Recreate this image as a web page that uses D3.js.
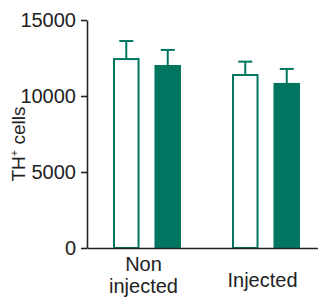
<!DOCTYPE html>
<html><head><meta charset="utf-8">
<script src="https://cdn.jsdelivr.net/npm/d3@7"></script>
<style>
html,body{margin:0;padding:0;background:#fff;}
svg{display:block;}
text{font-family:"Liberation Sans Narrow","Arial Narrow","Liberation Sans",Arial,sans-serif;fill:#222;}
</style></head>
<body>
<svg id="chart" width="318" height="300"></svg>
<script>
const categories = ["Non\ninjected", "Injected"];
const seriesNames = ["control", "treated"];
const means = [[12430, 12040], [11380, 10860]];
const errors = [[1190, 990], [880, 920]];
const yTicks = [0, 5000, 10000, 15000];

const svg = d3.select("#chart");
const teal = "#007661";
const axisColor = "#222";

const y = d3.scaleLinear().domain([0, 15000]).range([248, 20]);
const x0 = d3.scaleBand().domain(categories).range([87, 325]).padding(0);
const x1 = d3.scaleBand().domain(seriesNames).range([26, 94]).paddingInner(0.36).paddingOuter(0);

// bars
const groups = svg.selectAll("g.grp").data(categories).enter().append("g")
  .attr("transform", d => `translate(${x0(d)},0)`);

groups.each(function(cat, ci) {
  const g = d3.select(this);
  seriesNames.forEach((s, si) => {
    const v = means[ci][si], e = errors[ci][si];
    const bx = x1(s), bw = x1.bandwidth();
    const cx = bx + bw / 2;
    // error bar (upper only)
    g.append("line").attr("x1", cx).attr("x2", cx)
      .attr("y1", y(v)).attr("y2", y(v + e))
      .attr("stroke", teal).attr("stroke-width", 2);
    g.append("line").attr("x1", cx - 7).attr("x2", cx + 7)
      .attr("y1", y(v + e)).attr("y2", y(v + e))
      .attr("stroke", teal).attr("stroke-width", 2);
    if (si === 0) {
      g.append("rect").attr("x", bx + 1).attr("y", y(v))
        .attr("width", bw - 2).attr("height", y(0) - y(v))
        .attr("fill", "#fff").attr("stroke", teal).attr("stroke-width", 2);
    } else {
      g.append("rect").attr("x", bx).attr("y", y(v))
        .attr("width", bw).attr("height", y(0) - y(v))
        .attr("fill", teal);
    }
  });
});

// y axis
const yAxis = d3.axisLeft(y).tickValues(yTicks).tickSize(6).tickPadding(5).tickSizeOuter(0)
  .tickFormat(d3.format("d"));
const ya = svg.append("g").attr("transform", "translate(87,0)").call(yAxis);
ya.select(".domain").attr("stroke", axisColor).attr("stroke-width", 1.6);
ya.selectAll(".tick line").attr("stroke", axisColor).attr("stroke-width", 1.6);
ya.selectAll(".tick text").attr("font-size", 20).attr("fill", "#222")
  .style("font-family", '"Liberation Sans Narrow","Arial Narrow",Arial,sans-serif');

// x axis
const xAxis = d3.axisBottom(x0).tickSize(0).tickSizeOuter(0).tickFormat("");
const xa = svg.append("g").attr("transform", "translate(0,248)").call(xAxis);
xa.select(".domain").attr("stroke", axisColor).attr("stroke-width", 1.6);

// category labels
categories.forEach((c, i) => {
  const lines = c.split("\n");
  const cx = x0(c) + x0.bandwidth() / 2 - 3;
  const t = svg.append("text").attr("text-anchor", "middle").attr("font-size", 20);
  if (lines.length === 2) {
    t.append("tspan").attr("x", cx).attr("y", 271).text(lines[0]);
    t.append("tspan").attr("x", cx).attr("y", 293).text(lines[1]);
  } else {
    t.append("tspan").attr("x", cx).attr("y", 287).text(lines[0]);
  }
});

// y label
const yl = svg.append("text").attr("transform", "translate(25,144) rotate(-90)")
  .attr("text-anchor", "middle").attr("font-size", 19);
yl.append("tspan").text("TH");
yl.append("tspan").attr("font-size", 11).attr("dy", -7).text("+");
yl.append("tspan").attr("dy", 7).text(" cells");
</script>
</body></html>
